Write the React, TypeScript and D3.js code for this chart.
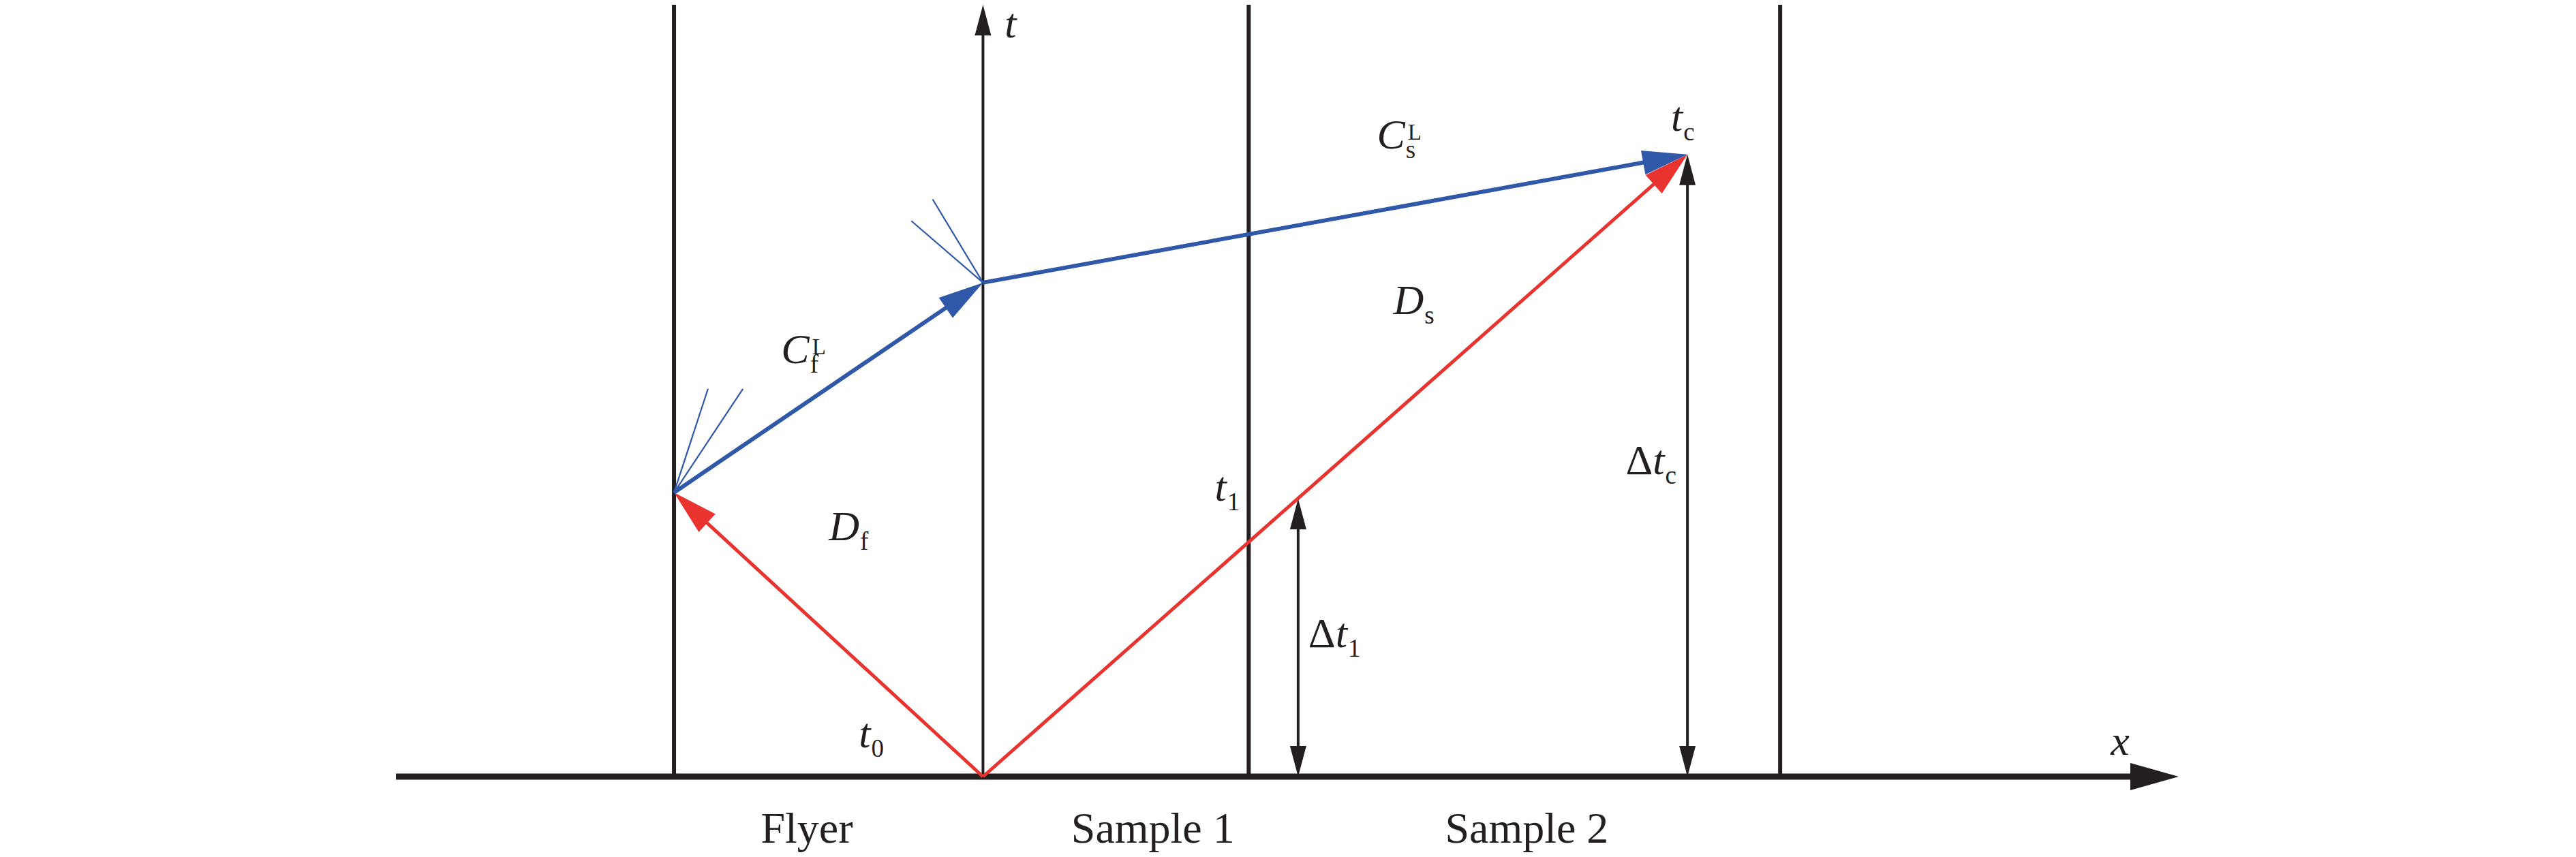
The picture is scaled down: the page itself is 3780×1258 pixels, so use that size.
import { useEffect, useRef } from "react"
import * as d3 from "d3"

// positions along x (arbitrary length units, impact face at 0)
const xAxisExtent = [-19, 38.7]
const tAxisTop = 25
const boundaryX = [-10, 8.6, 25.8] // flyer rear, sample 1 / sample 2, sample 2 rear
const impactX = 0

// wave events (x, t)
const origin = { x: 0, t: 0 }
const flyerRear = { x: -10, t: 9.2 }
const junction = { x: 0, t: 16.0 }
const tcPoint = { x: 22.8, t: 20.15 }
const t1Point = { x: 10.2, t: 9.0 }

// rarefaction fans
const flyerFan = [
  { x: -8.9, t: 12.56 },
  { x: -7.77, t: 12.56 },
]
const junctionFan = [
  { x: -1.63, t: 18.7 },
  { x: -2.32, t: 18.0 },
]

const regionNames = ["Flyer", "Sample 1", "Sample 2"]
const regionCenters = [-5.7, 5.5, 17.6]
const regionBaseline = -2.15

const mathLabels = [
  { base: "t", x: 0.7, t: 23.94 },
  { base: "x", x: 36.5, t: 0.7 },
  { base: "C", sub: "s", sup: "L", x: 12.75, t: 20.34 },
  { base: "t", sub: "c", x: 22.27, t: 20.92 },
  { base: "D", sub: "s", x: 13.28, t: 14.98 },
  { base: "C", sub: "f", sup: "L", x: -6.53, t: 13.39 },
  { base: "D", sub: "f", x: -4.99, t: 7.66 },
  { base: "t", sub: "0", x: -4.02, t: 0.95 },
  { base: "t", sub: "1", x: 7.5, t: 8.94 },
  { base: "Δt", sub: "1", x: 10.53, t: 4.19 },
  { base: "Δt", sub: "c", x: 20.8, t: 9.8 },
]

const RED = "#e8332f"
const BLUE = "#2f58a8"
const BLACK = "#231f20"
const FONT = "'Liberation Serif', 'Times New Roman', serif"

export default function App() {
  const svgRef = useRef<SVGSVGElement | null>(null)

  useEffect(() => {
    if (!svgRef.current) return
    const svg = d3.select(svgRef.current)
    svg.selectAll("*").remove()

    const x = d3.scaleLinear().domain(xAxisExtent).range([581, 3197])
    const y = d3.scaleLinear().domain([0, tAxisTop]).range([1140, 7])

    const g = svg.append("g")

    // arrow: shaft from a to b with filled triangle head at b
    const arrow = (
      a: number[],
      b: number[],
      color: string,
      width: number,
      len: number,
      half: number,
      twoHeads = false
    ) => {
      const dx = b[0] - a[0]
      const dy = b[1] - a[1]
      const L = Math.hypot(dx, dy)
      const ux = dx / L
      const uy = dy / L
      const head = (tip: number[], sx: number, sy: number) => {
        const bx = tip[0] - sx * len
        const by = tip[1] - sy * len
        g.append("path")
          .attr(
            "d",
            `M${tip[0]},${tip[1]}L${bx - sy * half},${by + sx * half}L${bx + sy * half},${by - sx * half}Z`
          )
          .attr("fill", color)
      }
      const start = twoHeads ? [a[0] + ux * (len - 2), a[1] + uy * (len - 2)] : a
      const end = [b[0] - ux * (len - 2), b[1] - uy * (len - 2)]
      g.append("line")
        .attr("x1", start[0])
        .attr("y1", start[1])
        .attr("x2", end[0])
        .attr("y2", end[1])
        .attr("stroke", color)
        .attr("stroke-width", width)
      head(b, ux, uy)
      if (twoHeads) head(a, -ux, -uy)
    }

    // boundaries
    boundaryX.forEach((bx) => {
      g.append("line")
        .attr("x1", x(bx))
        .attr("x2", x(bx))
        .attr("y1", y(tAxisTop))
        .attr("y2", y(0))
        .attr("stroke", BLACK)
        .attr("stroke-width", 6)
    })

    // t axis
    arrow([x(impactX), y(0)], [x(impactX), y(tAxisTop)], BLACK, 4, 45, 12)

    // x axis
    arrow([x(xAxisExtent[0]), y(0)], [x(xAxisExtent[1]), y(0)], BLACK, 9, 71, 20)

    // time intervals
    arrow([x(t1Point.x), y(0)], [x(t1Point.x), y(t1Point.t)], BLACK, 4, 45, 12, true)
    arrow([x(tcPoint.x), y(0)], [x(tcPoint.x), y(tcPoint.t)], BLACK, 4, 45, 12, true)

    // fans
    const fan = (o: { x: number; t: number }, ends: { x: number; t: number }[]) =>
      ends.forEach((e) => {
        g.append("line")
          .attr("x1", x(o.x))
          .attr("y1", y(o.t))
          .attr("x2", x(e.x))
          .attr("y2", y(e.t))
          .attr("stroke", BLUE)
          .attr("stroke-width", 2.2)
      })
    fan(flyerRear, flyerFan)
    fan(junction, junctionFan)

    // shock waves
    arrow([x(origin.x), y(origin.t)], [x(flyerRear.x), y(flyerRear.t)], RED, 5, 66, 18)
    arrow([x(origin.x), y(origin.t)], [x(tcPoint.x), y(tcPoint.t)], RED, 5, 66, 18)

    // release waves
    arrow([x(flyerRear.x), y(flyerRear.t)], [x(junction.x), y(junction.t)], BLUE, 6, 66, 18)
    arrow([x(junction.x), y(junction.t)], [x(tcPoint.x), y(tcPoint.t)], BLUE, 6, 66, 18)

    // region names
    regionNames.forEach((name, i) => {
      g.append("text")
        .attr("x", x(regionCenters[i]))
        .attr("y", y(regionBaseline))
        .attr("text-anchor", "middle")
        .attr("font-family", FONT)
        .attr("font-size", 64)
        .attr("fill", BLACK)
        .text(name)
    })

    // math labels: one text element each, sub/sup placed after measuring the base
    mathLabels.forEach((lab) => {
      const x0 = x(lab.x)
      const y0 = y(lab.t)
      const txt = g
        .append("text")
        .attr("x", x0)
        .attr("y", y0)
        .attr("font-family", FONT)
        .attr("font-size", 62)
        .attr("fill", BLACK)
      lab.base.split("").forEach((ch) => {
        txt
          .append("tspan")
          .attr("font-style", ch === "Δ" ? "normal" : "italic")
          .text(ch)
      })
      const w = (txt.node() as SVGTextElement).getComputedTextLength()
      if (lab.sub) {
        txt
          .append("tspan")
          .attr("x", x0 + w + 1)
          .attr("y", y0 + 14)
          .attr("font-size", 37)
          .text(lab.sub)
      }
      if (lab.sup) {
        txt
          .append("tspan")
          .attr("x", x0 + w + 4)
          .attr("y", y0 - 13)
          .attr("font-size", 33)
          .text(lab.sup)
      }
    })
  }, [])

  return (
    <>
      <style>{`body{margin:0;background:#fff}`}</style>
      <svg ref={svgRef} width={3780} height={1258} style={{ display: "block", background: "#fff" }}></svg>
    </>
  )
}
